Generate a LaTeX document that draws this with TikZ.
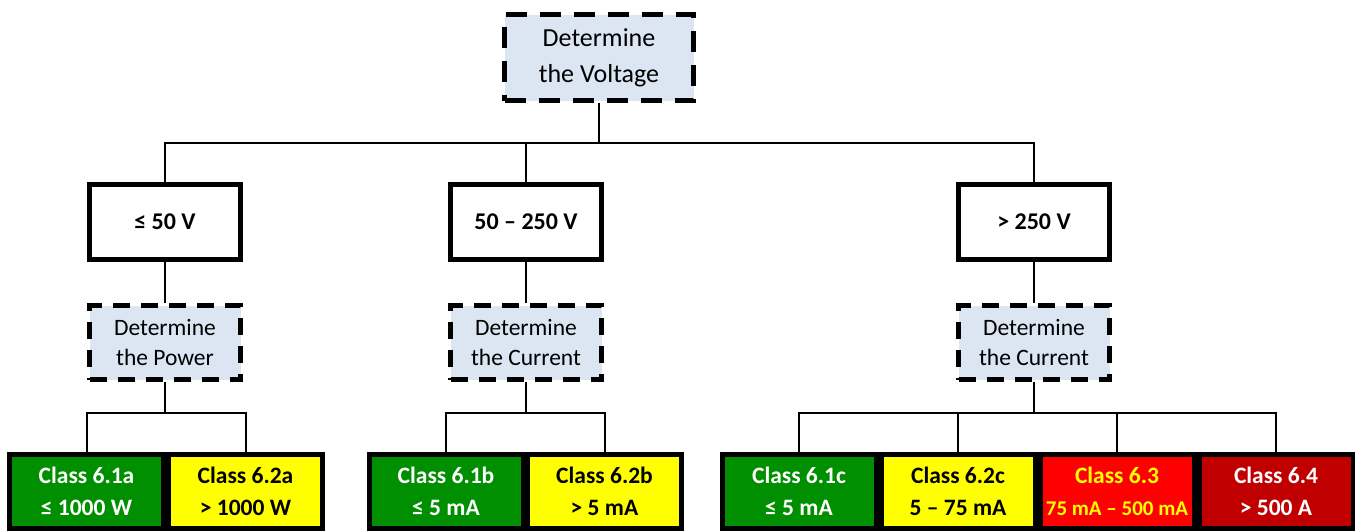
\documentclass[tikz,border=0pt]{standalone}
\usepackage{fontspec}
\setmainfont{Carlito}
\definecolor{lblue}{HTML}{DCE6F2}
\definecolor{cgreen}{HTML}{008F00}
\definecolor{cyellow}{HTML}{FFFF00}
\definecolor{cred}{HTML}{FF0000}
\definecolor{cdark}{HTML}{C00000}
\tikzset{
  topbox/.style={draw, line width=4.8pt, dash pattern=on 21pt off 13pt, fill=lblue,
    minimum width=189pt, minimum height=86pt, inner sep=0pt, align=center,
    font=\fontsize{26}{36}\selectfont},
  detbox/.style={draw, line width=4.8pt, dash pattern=on 17pt off 11pt, fill=lblue,
    minimum width=151pt, minimum height=74pt, inner sep=0pt, align=center,
    font=\fontsize{23.5}{30}\selectfont},
  volbox/.style={draw, line width=4.8pt, fill=white,
    minimum width=151pt, minimum height=75pt, inner sep=0pt, align=center,
    font=\fontsize{24}{28}\selectfont\bfseries},
  cell/.style={draw, line width=5pt, minimum width=154pt, minimum height=74pt,
    inner sep=0pt, align=center, font=\fontsize{23.5}{32}\selectfont\bfseries},
  conn/.style={line width=2pt}
}
\begin{document}
\begin{tikzpicture}[x=1pt,y=-1pt]
\useasboundingbox (0,0) rectangle (1355,531);
\node[topbox] (top) at (599,57.5) {Determine\\the Voltage};
\node[volbox] (v1) at (165,222) {≤ 50 V};
\node[volbox] (v2) at (526,222) {50 – 250 V};
\node[volbox] (v3) at (1034,222) {> 250 V};
\node[detbox] (d1) at (165,342.5) {Determine\\the Power};
\node[detbox] (d2) at (526,342.5) {Determine\\the Current};
\node[detbox] (d3) at (1034,342.5) {Determine\\the Current};
\node[cell, fill=cgreen, text=white] (c1) at (86.5,491.5) {Class 6.1a\\≤ 1000 W};
\node[cell, fill=cyellow, text=black] (c2) at (245.5,491.5) {Class 6.2a\\> 1000 W};
\node[cell, fill=cgreen, text=white] (c3) at (446,491.5) {Class 6.1b\\≤ 5 mA};
\node[cell, fill=cyellow, text=black] (c4) at (604.5,491.5) {Class 6.2b\\> 5 mA};
\node[cell, fill=cgreen, text=white] (c5) at (799,491.5) {Class 6.1c\\≤ 5 mA};
\node[cell, fill=cyellow, text=black] (c6) at (958,491.5) {Class 6.2c\\5 – 75 mA};
\node[cell, fill=cred, text=cyellow] (c7) at (1117,491.5) {Class 6.3\\{\fontsize{21}{21}\selectfont 75 mA – 500 mA}};
\node[cell, fill=cdark, text=white] (c8) at (1276,491.5) {Class 6.4\\> 500 A};
\coordinate (j0) at (599,143);
\coordinate (ja) at (165,413);
\coordinate (jb) at (526,413);
\coordinate (jc) at (1034,413);
\draw[conn] (top.south) -- (j0);
\draw[conn] (v1.north) |- (j0) -| (v3.north);
\draw[conn] (v2.north |- j0) -- (v2.north);
\draw[conn] (v1.south) -- (d1.north);
\draw[conn] (v2.south) -- (d2.north);
\draw[conn] (v3.south) -- (d3.north);
\draw[conn] (d1.south) -- (ja);
\draw[conn] (c1.north) |- (ja) -| (c2.north);
\draw[conn] (d2.south) -- (jb);
\draw[conn] (c3.north) |- (jb) -| (c4.north);
\draw[conn] (d3.south) -- (jc);
\draw[conn] (c5.north) |- (jc) -| (c8.north);
\draw[conn] (c6.north |- jc) -- (c6.north);
\draw[conn] (c7.north |- jc) -- (c7.north);
\end{tikzpicture}
\end{document}
